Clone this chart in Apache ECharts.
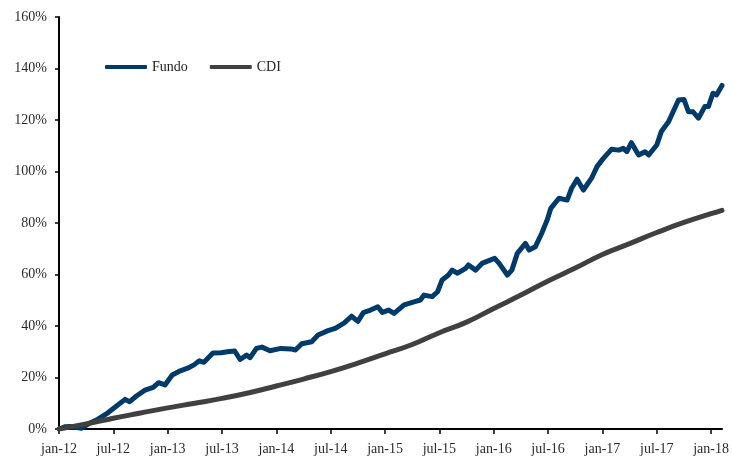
<!DOCTYPE html>
<html>
<head>
<meta charset="utf-8">
<script src="https://cdn.jsdelivr.net/npm/echarts@6.0.0/dist/echarts.min.js"></script>
<style>
  html, body { margin: 0; padding: 0; background: #fff; }
  #main { width: 732px; height: 456px; }
</style>
</head>
<body>
<div id="main"></div>
<script>
// meses desde jan-12
var tickLabels = ['jan-12', 'jul-12', 'jan-13', 'jul-13', 'jan-14', 'jul-14', 'jan-15',
    'jul-15', 'jan-16', 'jul-16', 'jan-17', 'jul-17', 'jan-18'];

var fundoMonths = [0, 0.7, 1.2, 1.8, 2.5, 3.2, 4.3, 5.4, 6.35, 7.3, 7.8, 8.55, 9.5, 10.4, 11.0, 11.7,
    12.5, 13.4, 14.2, 14.9, 15.5, 16.0, 17.0, 17.9, 18.6, 19.4, 20.0, 20.7, 21.1, 21.8, 22.4, 23.3,
    24.5, 25.6, 26.1, 26.8, 27.9, 28.6, 29.7, 30.5, 31.5, 32.3, 33.0, 33.6, 34.4, 35.2, 35.7, 36.4,
    37.0, 38.1, 39.2, 39.9, 40.3, 41.2, 41.8, 42.3, 43.0, 43.4, 44.0, 44.9, 45.2, 46.0, 46.7, 47.6,
    48.1, 48.6, 49.5, 50.0, 50.6, 51.5, 51.9, 52.6, 53.3, 53.9, 54.3, 55.2, 56.1, 56.6, 57.2, 57.9,
    58.8, 59.4, 60.1, 61.0, 61.8, 62.3, 62.7, 63.2, 64.0, 64.7, 65.1, 66.0, 66.5, 67.3, 68.4, 69.0,
    69.5, 70.0, 70.6, 71.3, 71.7, 72.2, 72.6, 73.2];
var fundoValues = [0, 0.9, 1.0, 0.7, 0.3, 1.9, 3.8, 6.3, 8.9, 11.5, 10.6, 12.8, 15.1, 16.2, 18.0, 17.1,
    21.0, 22.6, 23.6, 24.9, 26.5, 25.9, 29.5, 29.6, 30.0, 30.3, 27.0, 28.7, 27.7, 31.3, 31.8, 30.4,
    31.3, 31.1, 30.7, 33.1, 33.9, 36.5, 38.2, 39.1, 41.2, 43.8, 41.8, 45.2, 46.2, 47.5, 45.3, 46.2,
    44.9, 48.2, 49.4, 50.1, 52.0, 51.4, 53.3, 57.9, 59.8, 61.7, 60.5, 62.4, 63.7, 61.7, 64.3, 65.6,
    66.3, 64.3, 59.8, 61.7, 68.2, 72.1, 69.5, 70.8, 76.0, 81.2, 85.7, 89.6, 88.9, 93.5, 97.0, 92.8,
    97.4, 101.9, 105.1, 108.6, 108.3, 109.0, 107.7, 111.2, 106.4, 107.7, 106.4, 110.3, 115.5, 119.3, 127.8, 128.0,
    123.2, 123.2, 120.7, 125.2, 125.2, 130.4, 129.7, 133.4];

var cdiMonths = [0, 3, 6, 9, 12, 15, 18, 21, 24, 27, 30, 33, 36, 39, 42, 45, 48, 51, 54, 57, 60, 63,
    66, 69, 72, 73.2];
var cdiValues = [0, 2.0, 4.2, 6.2, 8.2, 10.0, 11.9, 14.1, 16.7, 19.4, 22.3, 25.6, 29.2, 32.8, 37.4,
    41.5, 46.8, 52.0, 57.5, 62.5, 67.8, 72.0, 76.3, 80.2, 83.6, 84.9];

function pares(xs, ys) {
    var out = [];
    for (var i = 0; i < xs.length; i++) {
        out.push([xs[i], ys[i]]);
    }
    return out;
}

var tickValues = [];
for (var k = 0; k < tickLabels.length; k++) {
    tickValues.push(k * 6);
}

var fonte = '"Liberation Serif", "DejaVu Serif", serif';

var myChart = echarts.init(document.getElementById('main'));
var option = {
    animation: false,
    backgroundColor: '#fff',
    grid: {
        left: 59,
        right: 8,
        top: 17,
        bottom: 27
    },
    legend: {
        left: 100,
        top: 55,
        itemWidth: 42,
        itemHeight: 4,
        itemGap: 22,
        icon: 'roundRect',
        textStyle: {
            fontFamily: fonte,
            fontSize: 14,
            color: '#222'
        },
        data: ['Fundo', 'CDI']
    },
    xAxis: {
        type: 'value',
        min: 0,
        max: 73.2,
        interval: 6,
        splitLine: { show: false },
        axisLine: { lineStyle: { color: '#000', width: 2 } },
        axisTick: {
            customValues: tickValues,
            length: 5,
            lineStyle: { color: '#000', width: 1.5 }
        },
        axisLabel: {
            customValues: tickValues,
            fontFamily: fonte,
            fontSize: 14,
            color: '#2a2a2a',
            margin: 13,
            formatter: function (v) {
                return tickLabels[Math.round(v / 6)] || '';
            }
        }
    },
    yAxis: {
        type: 'value',
        min: 0,
        max: 160,
        interval: 20,
        splitLine: { show: false },
        axisLine: { show: true, lineStyle: { color: '#000', width: 2 } },
        axisTick: { show: true, length: 4, lineStyle: { color: '#000', width: 1.5 } },
        axisLabel: {
            fontFamily: fonte,
            fontSize: 14,
            color: '#2a2a2a',
            margin: 12,
            formatter: '{value}%'
        }
    },
    series: [
        {
            name: 'Fundo',
            type: 'line',
            data: pares(fundoMonths, fundoValues),
            showSymbol: false,
            symbol: 'none',
            color: '#003A6B',
            lineStyle: { width: 5, color: '#003A6B', join: 'round', cap: 'round' }
        },
        {
            name: 'CDI',
            type: 'line',
            data: pares(cdiMonths, cdiValues),
            smooth: true,
            showSymbol: false,
            symbol: 'none',
            color: '#404040',
            lineStyle: { width: 5, color: '#404040', cap: 'round' }
        }
    ]
};
if (option && typeof option === 'object') {
    myChart.setOption(option, true);
}
</script>
</body>
</html>
